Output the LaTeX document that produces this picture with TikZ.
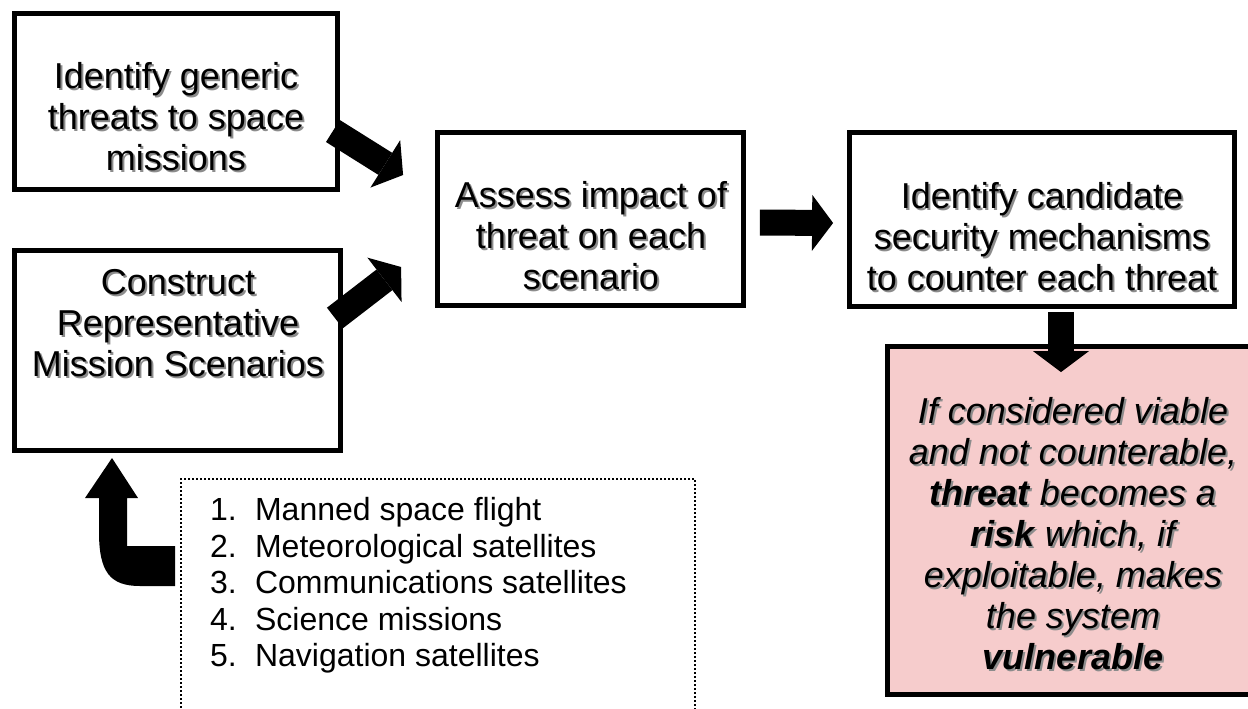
\documentclass[tikz,border=0pt]{standalone}
\usepackage{fontspec}
\setmainfont{Liberation Sans}
\usetikzlibrary{arrows.meta}

\definecolor{riskpink}{RGB}{246,204,204}
\tikzset{
  box/.style={draw=black, line width=2.4pt, fill=white, inner sep=0pt},
  caption/.style={align=center, font=\fontsize{18}{20.5}\selectfont},
  blockarrow/.style={line width=13pt, -{Triangle[width=28pt,length=10.5pt,line width=0pt]}},
}
% text with a grey drop shadow: name, position, text
\newcommand{\shtext}[4][]{%
  \node[caption,#1,text=black!45] at ([shift={(2,2)}]#3) {#4};
  \node[caption,#1] (#2) at (#3) {#4};
}

\begin{document}
\begin{tikzpicture}[x=0.5pt,y=-0.5pt]
\useasboundingbox (0,0) rectangle (1248,708);
\clip (0,0) rectangle (1248,708);
%%% the boxes
\node[box, minimum width=161.5pt, minimum height=88pt] (generic) at (176,101.5) {};
\node[box, minimum width=163pt, minimum height=100pt] (construct) at (177.5,350.5) {};
\node[box, minimum width=153pt, minimum height=86.5pt] (assess) at (590.5,219) {};
\node[box, minimum width=192.5pt, minimum height=87pt] (counter) at (1042,219.5) {};
\node[box, fill=riskpink, minimum width=187.5pt, minimum height=174pt] (risk) at (1075,520.5) {};
\node[draw, line width=1pt, dash pattern=on 1pt off 1pt, minimum width=257pt, minimum height=140.5pt] (scenlist) at (438,619.5) {};
%%% texts
\shtext{tgeneric}{176,117}{Identify generic\\threats to space\\missions}
\shtext{tconstruct}{178,323.5}{Construct\\Representative\\Mission Scenarios}
\shtext{tassess}{591,236}{Assess impact of\\threat on each\\scenario}
\shtext{tcounter}{1042,237}{Identify candidate\\security mechanisms\\to counter each threat}
\shtext[font=\fontsize{18}{20.5}\selectfont\itshape]{trisk}{1073,533.5}{If considered viable\\and not counterable,\\\textbf{threat} becomes a\\\textbf{risk} which, if\\exploitable, makes\\the system\\\textbf{vulnerable}}
\node[anchor=west, align=left, font=\fontsize{16}{18.25}\selectfont] (items) at (203,585.5)
{\makebox[22.5pt][l]{1.}Manned space flight\\
 \makebox[22.5pt][l]{2.}Meteorological satellites\\
 \makebox[22.5pt][l]{3.}Communications satellites\\
 \makebox[22.5pt][l]{4.}Science missions\\
 \makebox[22.5pt][l]{5.}Navigation satellites};
%%% block arrows
\draw[blockarrow] ([shift={(-7,29.5)}]generic.east) -- ([shift={(-32,-44)}]assess.west);
\draw[blockarrow] ([shift={(-8,-32.5)}]construct.east) -- ([shift={(-34,48)}]assess.west);
\draw[blockarrow] ([shift={(14,3.5)}]assess.east) -- ([shift={(-14,3.5)}]counter.west);
\draw[blockarrow] ([shift={(19,3)}]counter.south) -- ([shift={(-14,28)}]risk.north);
% bent arrow from the list up to the scenarios
\fill (175,546) -- (127,546) -- (127,498) -- (138,498) -- (112,458) -- (85,498) -- (99,498)
  -- (99,532) .. controls (99,572) and (110,586) .. (140,586) -- (175,586) -- cycle;
\end{tikzpicture}
\end{document}
